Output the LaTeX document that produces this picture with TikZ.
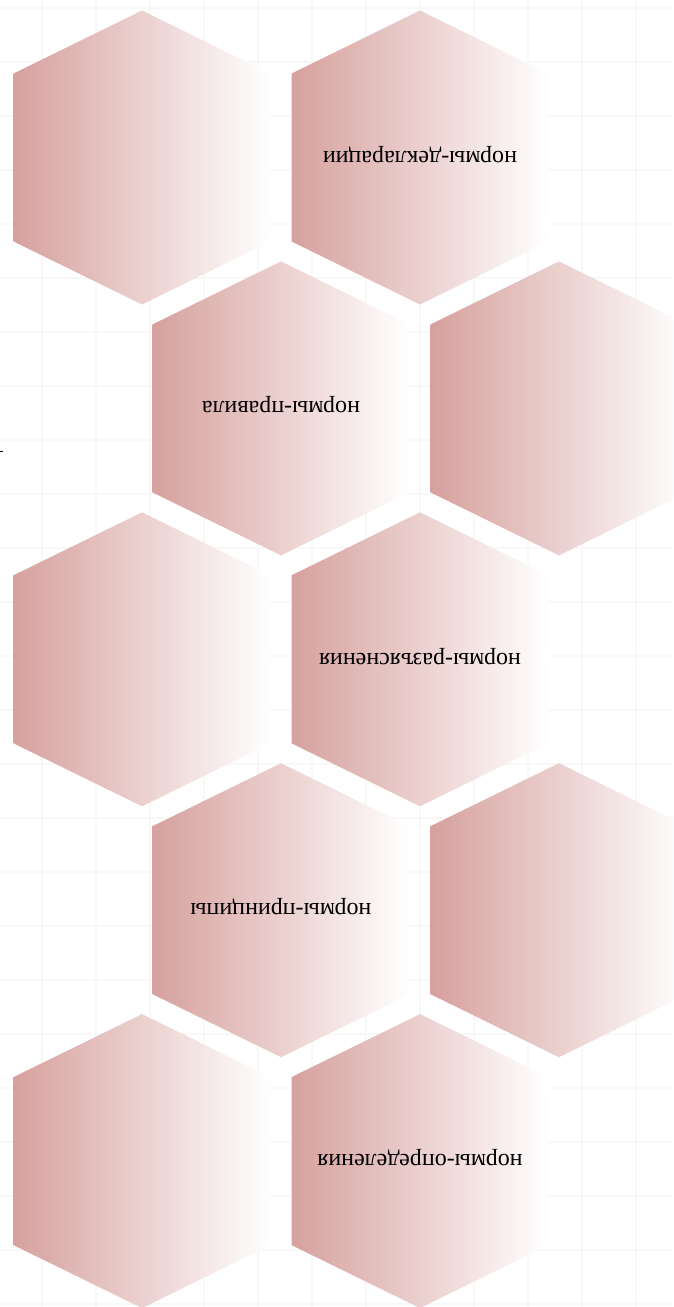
\documentclass[tikz,border=0pt]{standalone}
\usepackage{fontspec}
\setmainfont{Liberation Serif}
\definecolor{hexpink}{RGB}{214,161,158}
\definecolor{gridgray}{RGB}{248,248,248}
\begin{document}
\begin{tikzpicture}[x=1pt,y=-1pt,
    hexcell/.style={left color=hexpink, right color=white},
    hexlabel/.style={rotate=180, inner sep=0pt, font=\fontsize{24}{28}\selectfont},
    gridline/.style={gridgray, line width=2.5pt}]
  \useasboundingbox (0,0) rectangle (673,1307);
  \clip (0,0) rectangle (673,1307);
  % faint background grid
  \foreach \x in {42,96,...,672}{
    \draw[gridline] (\x,0) -- (\x,1307);
  }
  \foreach \y in {8,62,...,1306}{
    \draw[gridline] (0,\y) -- (673,\y);
  }
  % honeycomb cells: rows alternate between two column offsets
  \foreach \r [evaluate=\r as \cy using 157.5+250.9*\r] in {0,...,4}{
    \pgfmathtruncatemacro{\odd}{mod(\r,2)}
    \ifnum\odd=0 \def\xa{142}\def\xb{420}\else \def\xa{281}\def\xb{559}\fi
    \foreach \cx in {\xa,\xb}{
      \shade[hexcell] (\cx,\cy-147) -- ++(128.5,63) -- ++(0,168) -- ++(-128.5,63)
        -- ++(-128.5,-63) -- ++(0,-168) -- cycle;
    }
  }
  % labels (printed upside down)
  \node[hexlabel] (decl) at (420,155) {нормы-декларации};
  \node[hexlabel] (rule) at (281,405) {нормы-правила};
  \node[hexlabel] (expl) at (420,657) {нормы-разъяснения};
  \node[hexlabel] (princ) at (281,907) {нормы-принципы};
  \node[hexlabel] (defn) at (420,1158) {нормы-определения};
  % stray tick at the left margin
  \draw[line width=0.8pt] (0,451.5) -- (3,451.5);
\end{tikzpicture}
\end{document}
